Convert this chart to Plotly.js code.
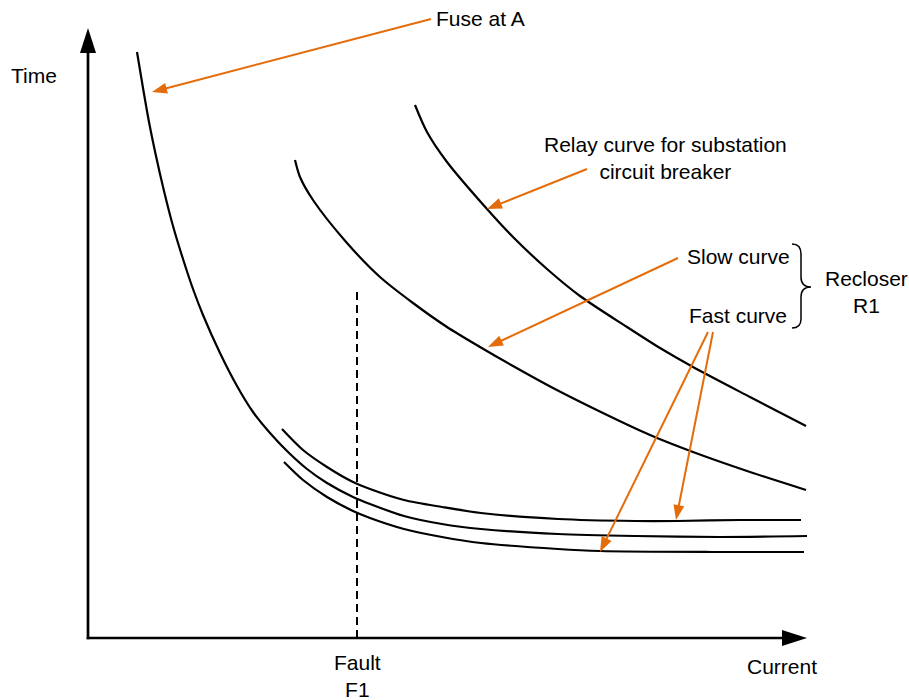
<!DOCTYPE html>
<html><head><meta charset="utf-8">
<script src="https://cdn.plot.ly/plotly-3.0.1.min.js"></script>
<style>html,body{margin:0;padding:0;background:#fff}#chart{width:909px;height:700px}</style>
</head><body><div id="chart"></div>
<script>
// ---- Data (arbitrary "Current" / "Time" units) ----
const fuseCurrent = [49,55,61,68,76,85,95,105,115,132,149,165,182,199,219,239,265,282,316,354,393,470,547,632,719];
const fuseTime    = [586,550,516,482,447,412,379,349,323,285,252,226,205,187,169,155,141,134,122,114,109,104,102,101,102];

const fastUpperCurrent = [194,215,239,265,282,316,354,393,470,547,589,652,713];
const fastUpperTime    = [209,188,171,156,149,138,131,125,119,117,117,118,118];

const fastLowerCurrent = [196,215,239,265,282,316,354,393,470,512,624,716];
const fastLowerTime    = [176,158,141,127,120,109,101,95,89,87,86,86];

const slowCurrent = [207,212,225,259,292,325,359,392,425,465,517,562,605,662,718];
const slowTime    = [478,461,438,395,361,335,311,291,272,250,224,203,186,166,148];

const relayCurrent = [327,339,359,399,425,459,492,539,572,605,662,718];
const relayTime    = [533,506,476,429,401,369,342,311,290,271,241,212];

const faultCurrent = 269;
const faultLineTime = [0, 348];

// labels
const axisLabels = ["Time", "Current"];
const faultLabel = "Fault<br>F1";
const calloutTexts = ["Fuse at A", "Relay curve for substation<br>circuit breaker", "Slow curve", "Fast curve", "Recloser<br>R1"];

// callout arrows: start (label end) -> tip (on curve)
const arrowFromX = [343, 499, 590, 620, 625];
const arrowFromY = [619, 469, 380, 306, 306];
const arrowToX   = [64, 399, 400, 512, 588];
const arrowToY   = [546, 429, 291, 86, 118];

const ORANGE = '#E46C0A';
const FONT = {family: 'Liberation Sans, Arial, sans-serif', size: 21, color: '#000'};

function curve(x, y) {
  return {x: x, y: y, type: 'scatter', mode: 'lines', hoverinfo: 'skip',
    line: {color: '#000', width: 2.2, shape: 'spline', smoothing: 0.8}};
}

const traces = [
  curve(fuseCurrent, fuseTime),
  curve(fastUpperCurrent, fastUpperTime),
  curve(fastLowerCurrent, fastLowerTime),
  curve(slowCurrent, slowTime),
  curve(relayCurrent, relayTime),
  {x: [faultCurrent, faultCurrent], y: faultLineTime, type: 'scatter', mode: 'lines', hoverinfo: 'skip',
   line: {color: '#000', width: 2, dash: '8px,5px'}}
];

function arrow(x0, y0, x1, y1, len, hw, color, width) {
  const dx = x1 - x0, dy = y1 - y0, d = Math.hypot(dx, dy);
  const ux = dx / d, uy = dy / d, nx = -uy, ny = ux;
  const bx = x1 - ux * len, by = y1 - uy * len;
  const lx = x1 - ux * (len - 2), ly = y1 - uy * (len - 2);
  return [
    {type: 'line', xref: 'x', yref: 'y', x0: x0, y0: y0, x1: lx, y1: ly, line: {color: color, width: width}},
    {type: 'path', xref: 'x', yref: 'y',
     path: `M${x1},${y1} L${bx + nx * hw},${by + ny * hw} L${bx - nx * hw},${by - ny * hw} Z`,
     fillcolor: color, line: {width: 0}}
  ];
}

let shapes = [];
// axes with arrow heads
shapes = shapes.concat(arrow(0, -1.3, 0, 610, 25, 8, '#000', 2.7));
shapes = shapes.concat(arrow(-1.3, 0, 719, 0, 25, 8, '#000', 2.7));
// callout arrows
for (let i = 0; i < arrowFromX.length; i++) {
  shapes = shapes.concat(arrow(arrowFromX[i], arrowFromY[i], arrowToX[i], arrowToY[i], 15, 5.5, ORANGE, 2));
}
// brace for recloser
shapes.push({type: 'path', xref: 'x', yref: 'y',
  path: 'M704,394 Q713,394 713,384 L713,361 Q713,351 723,351 Q713,351 713,341 L713,319 Q713,310 704,310',
  line: {color: '#000', width: 1.5}});

function label(text, x, y, xanchor) {
  return {text: text, x: x, y: y, xref: 'x', yref: 'y', showarrow: false,
    xanchor: xanchor || 'center', yanchor: 'middle', align: 'center', font: FONT};
}

const annotations = [
  label(axisLabels[0], -54, 563),
  label(axisLabels[1], 694, -28),
  label(faultLabel, faultCurrent, -38),
  label(calloutTexts[0], 346, 620, 'left'),
  label(calloutTexts[1], 577, 480),
  label(calloutTexts[2], 597, 382, 'left'),
  label(calloutTexts[3], 599, 323, 'left'),
  label(calloutTexts[4], 778, 346)
];

const layout = {
  width: 909, height: 700, autosize: false,
  margin: {l: 0, r: 0, t: 0, b: 0, pad: 0},
  paper_bgcolor: '#fff', plot_bgcolor: '#fff',
  showlegend: false,
  xaxis: {range: [-88, 821], visible: false, fixedrange: true},
  yaxis: {range: [-62, 638], visible: false, fixedrange: true},
  shapes: shapes,
  annotations: annotations
};

Plotly.newPlot('chart', traces, layout, {staticPlot: true, displayModeBar: false});
</script>
</body></html>
